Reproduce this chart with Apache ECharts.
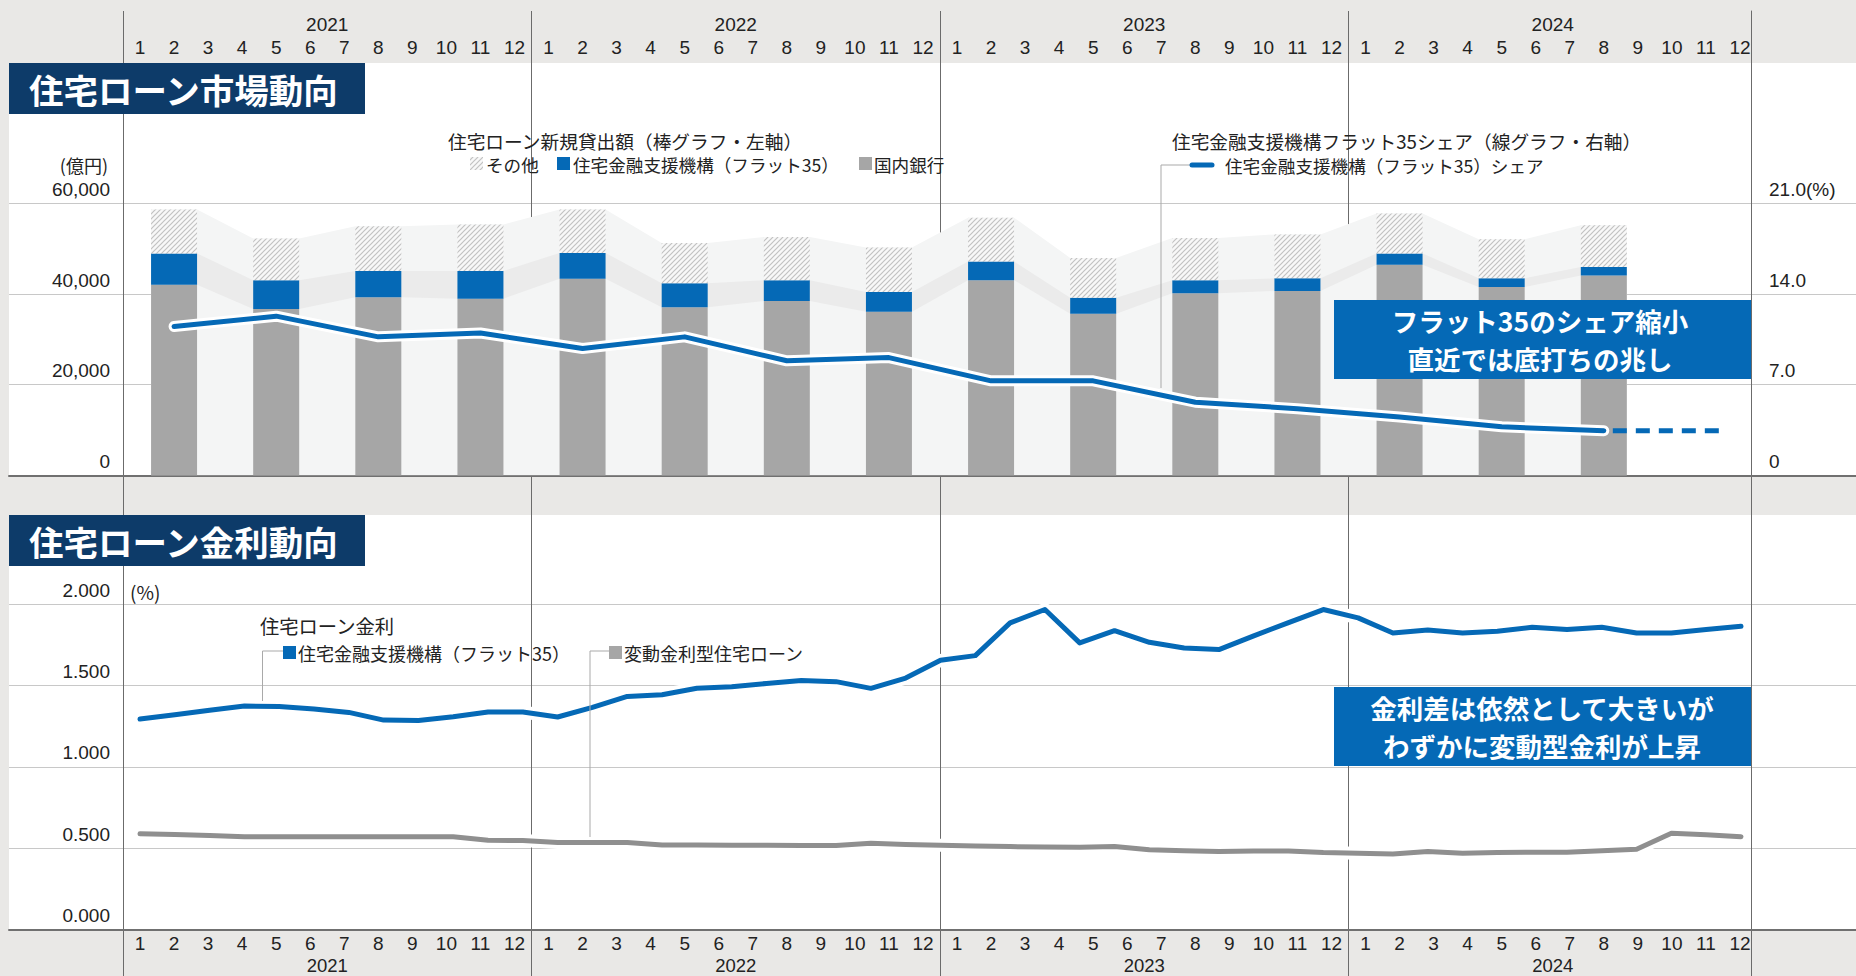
<!DOCTYPE html>
<html><head><meta charset="utf-8">
<script src="https://cdn.jsdelivr.net/npm/echarts@6/dist/echarts.min.js"></script>
<style>html,body{margin:0;padding:0;background:#e9e8e6;}#c{width:1856px;height:976px;}</style>
</head><body><div id="c"></div>
<script>
// ---------------- data ----------------
const YEARS = ['2021', '2022', '2023', '2024'];
const MONTH_NUMS = ['1','2','3','4','5','6','7','8','9','10','11','12'];
const MONTHS = YEARS.flatMap(y => MONTH_NUMS.map(m => y + '-' + m));
// quarterly bars, placed at the middle month of each quarter
const QUARTER_MONTHS = ['2021-2','2021-5','2021-8','2021-11','2022-2','2022-5','2022-8','2022-11',
  '2023-2','2023-5','2023-8','2023-11','2024-2','2024-5','2024-8'];
// 住宅ローン新規貸出額 (億円)
const LOAN_DOMESTIC = [42100, 36700, 39300, 39000, 43400, 37100, 38500, 36100, 43100, 35700, 40200, 40700, 46500, 41600, 44100];
const LOAN_FLAT35   = [6900, 6400, 5800, 6100, 5700, 5300, 4600, 4400, 4100, 3500, 2900, 2800, 2500, 1900, 1900];
const LOAN_OTHER    = [9700, 9200, 9900, 10300, 9600, 8900, 9500, 9800, 9700, 8800, 9300, 9700, 8800, 8600, 9200];
// フラット35シェア (%)
const FLAT35_SHARE = [11.5, 12.3, 10.7, 11.0, 9.8, 10.7, 8.85, 9.1, 7.3, 7.3, 5.65, 5.15, 4.5, 3.75, 3.45];
const SHARE_OUTLOOK_END = 46.5; // month index where the dashed outlook ends
// 住宅ローン金利 (%), 47 monthly points
const RATE_MONTHS = MONTHS.slice(1);
const RATE_FLAT35 = [1.293,1.320,1.347,1.373,1.371,1.355,1.334,1.287,1.285,1.307,1.336,1.336,1.306,1.365,1.432,1.443,
  1.482,1.492,1.512,1.530,1.523,1.482,1.545,1.654,1.683,1.884,1.966,1.761,1.836,1.765,1.730,1.720,1.804,1.886,1.966,
  1.915,1.822,1.840,1.822,1.832,1.857,1.843,1.857,1.822,1.822,1.843,1.863];
const RATE_VARIABLE = [0.588,0.584,0.578,0.570,0.570,0.570,0.570,0.570,0.570,0.570,0.549,0.547,0.535,0.535,0.535,0.520,
  0.520,0.518,0.518,0.516,0.516,0.530,0.522,0.518,0.514,0.510,0.508,0.506,0.510,0.490,0.485,0.479,0.483,0.483,0.473,
  0.469,0.465,0.479,0.469,0.473,0.475,0.475,0.485,0.494,0.592,0.582,0.571];
// axis ticks
const LOAN_TICKS = [0, 20000, 40000, 60000];
const SHARE_TICKS = [0, 7, 14, 21];
const RATE_TICKS = [0, 0.5, 1.0, 1.5, 2.0];

// ---------------- style ----------------
const FONT = "'Noto Sans CJK JP','Noto Sans',sans-serif";
const NUM_FONT = "'Liberation Sans','Roboto',sans-serif";
const BG = '#e9e8e6', NAVY = '#0d3b69', BLUE = '#0569b6', GRAY_BAR = '#a6a6a6', GRAY_LINE = '#8f8f8f';
const TXT = '#222';
const L = 123, R = 99, FRAME_END = 1751, YEAR3_END = 1348.3;
const TOP_Y = 203.6, TOP_H = 271.7, BOT_Y = 604, BOT_H = 325.6;
const BAR_W = 46;
const NUM_SIZE = 19;

function hatchCanvas() {
  const s = 5, c = document.createElement('canvas'); c.width = s; c.height = s;
  const g = c.getContext('2d');
  g.fillStyle = '#f8f8f8'; g.fillRect(0, 0, s, s);
  g.strokeStyle = '#c2c2c2'; g.lineWidth = 1.2; g.beginPath();
  g.moveTo(0, s); g.lineTo(s, 0); g.moveTo(-1, 1); g.lineTo(1, -1); g.moveTo(s - 1, s + 1); g.lineTo(s + 1, s - 1);
  g.stroke();
  return c;
}
const HATCH = { image: hatchCanvas(), repeat: 'repeat' };

const qIdx = QUARTER_MONTHS.map(m => MONTHS.indexOf(m));
const grayTop = LOAN_DOMESTIC.slice();
const blueTop = LOAN_DOMESTIC.map((v, i) => v + LOAN_FLAT35[i]);
const totalTop = blueTop.map((v, i) => v + LOAN_OTHER[i]);
const halfBar = (BAR_W / 2) / ((1856 - L - R) / MONTHS.length);
function bandData(tops) { const d = []; qIdx.forEach((k, i) => { d.push([k - halfBar, tops[i]]); d.push([k + halfBar, tops[i]]); }); return d; }
function toMonthly(vals) { const a = new Array(MONTHS.length).fill('-'); qIdx.forEach((k, i) => { a[k] = vals[i]; }); return a; }

const hidden = { show: false };
function hx(gridIndex) { return { type: 'value', gridIndex, show: false, min: 0, max: 1 }; }
function hy(gridIndex) { return { type: 'value', gridIndex, show: false, min: 0, max: 1 }; }
function labelAxis(gridIndex, data, fmt, size) {
  return { type: 'category', gridIndex, position: 'top', data, axisLine: hidden, axisTick: hidden, splitLine: hidden,
    axisLabel: { interval: 0, margin: 0, verticalAlign: 'middle', lineHeight: size, fontSize: size, fontFamily: NUM_FONT, color: TXT, formatter: fmt } };
}
const monthFmt = v => v.split('-')[1];
const FRAME_LINE = { color: '#6b6b6b', width: 1 };

const grid = [
  { left: L, right: 1856 - YEAR3_END, top: 11, bottom: 0 },                                   // 0 frame (year lines 2021-2023)
  { left: 9, right: 0, top: 63, height: 414, show: true, backgroundColor: '#fff', borderWidth: 0 }, // 1 top panel
  { left: 9, right: 0, top: 515, height: 415, show: true, backgroundColor: '#fff', borderWidth: 0 }, // 2 bottom panel
  { left: 9, right: 0, top: TOP_Y, height: TOP_H },                                             // 3 top gridlines
  { left: L, right: R, top: TOP_Y, height: TOP_H },                                             // 4 top chart
  { left: 9, right: 0, top: BOT_Y, height: BOT_H },                                             // 5 bottom gridlines
  { left: 140, right: 115, top: BOT_Y, height: BOT_H },                                         // 6 rate chart
  { left: L, right: R, top: 24, height: 1 },                                                    // 7 top years
  { left: L, right: R, top: 47, height: 1 },                                                    // 8 top months
  { left: L, right: R, top: 943.5, height: 1 },                                                 // 9 bottom months
  { left: L, right: R, top: 965.5, height: 1 },                                                 // 10 bottom years
  { left: FRAME_END, right: 0, top: 11, bottom: 0 }                                             // 11 frame right edge
];

const xAxis = [
  { type: 'category', gridIndex: 0, position: 'top', data: YEARS.slice(0, 3), axisLine: hidden, axisTick: hidden, axisLabel: hidden,
    splitLine: { show: true, interval: 0, lineStyle: FRAME_LINE } },                              // 0
  hx(1), hx(2),                                                                                  // 1,2
  { type: 'value', gridIndex: 3, min: 0, max: 1, axisLabel: hidden, axisTick: hidden, splitLine: hidden,
    axisLine: { show: true, onZero: false, lineStyle: { color: '#707070', width: 2 } } },          // 3
  { type: 'category', gridIndex: 4, data: MONTHS, show: false },                                 // 4
  { type: 'value', gridIndex: 4, min: -0.5, max: MONTHS.length - 0.5, show: false },             // 5
  { type: 'value', gridIndex: 5, min: 0, max: 1, axisLabel: hidden, axisTick: hidden, splitLine: hidden,
    axisLine: { show: true, onZero: false, lineStyle: { color: '#707070', width: 2 } } },          // 6
  { type: 'category', gridIndex: 6, data: RATE_MONTHS, boundaryGap: false, show: false },        // 7
  labelAxis(7, YEARS, null, NUM_SIZE), labelAxis(8, MONTHS, monthFmt, NUM_SIZE),
  labelAxis(9, MONTHS, monthFmt, NUM_SIZE), labelAxis(10, YEARS, null, 18.5),                    // 8-11
  hx(11)                                                                                         // 12
];

const yLabel = { fontSize: NUM_SIZE, fontFamily: NUM_FONT, color: TXT, verticalAlign: 'bottom', lineHeight: 22, padding: [0, 0, 3, 0] };
const yAxis = [
  hy(0), hy(1), hy(2),
  { type: 'value', gridIndex: 3, min: LOAN_TICKS[0], max: LOAN_TICKS[LOAN_TICKS.length - 1], interval: LOAN_TICKS[1] - LOAN_TICKS[0],
    axisLabel: hidden, axisLine: hidden, axisTick: hidden, splitLine: { show: true, lineStyle: { color: '#c8c8c8', width: 1.2 } } }, // 3
  { type: 'value', gridIndex: 4, position: 'left', min: LOAN_TICKS[0], max: LOAN_TICKS[LOAN_TICKS.length - 1], interval: LOAN_TICKS[1] - LOAN_TICKS[0],
    axisLine: hidden, axisTick: hidden, splitLine: hidden,
    axisLabel: Object.assign({ margin: 13, formatter: v => v.toLocaleString('en-US') }, yLabel) },      // 4
  { type: 'value', gridIndex: 4, position: 'right', min: SHARE_TICKS[0], max: SHARE_TICKS[SHARE_TICKS.length - 1], interval: SHARE_TICKS[1] - SHARE_TICKS[0],
    axisLine: hidden, axisTick: hidden, splitLine: hidden,
    axisLabel: Object.assign({ margin: 12, formatter: v => v === 0 ? '0' : (v === SHARE_TICKS[SHARE_TICKS.length - 1] ? v.toFixed(1) + '(%)' : v.toFixed(1)) }, yLabel) }, // 5
  { type: 'value', gridIndex: 5, min: RATE_TICKS[0], max: RATE_TICKS[RATE_TICKS.length - 1], interval: RATE_TICKS[1] - RATE_TICKS[0],
    axisLabel: hidden, axisLine: hidden, axisTick: hidden, splitLine: { show: true, lineStyle: { color: '#c8c8c8', width: 1.2 } } }, // 6
  { type: 'value', gridIndex: 6, min: RATE_TICKS[0], max: RATE_TICKS[RATE_TICKS.length - 1], interval: RATE_TICKS[1] - RATE_TICKS[0],
    axisLine: hidden, axisTick: hidden, splitLine: hidden,
    axisLabel: Object.assign({ margin: 30, formatter: v => v.toFixed(3) }, yLabel) },                     // 7
  hy(7), hy(8), hy(9), hy(10),
  { type: 'value', gridIndex: 11, position: 'left', min: 0, max: 1, axisLabel: hidden, axisTick: hidden, splitLine: hidden,
    axisLine: { show: true, lineStyle: FRAME_LINE } }                                            // 12
];

function band(name, tops, color) {
  return { name, type: 'line', xAxisIndex: 5, yAxisIndex: 4, data: bandData(tops), symbol: 'none', silent: true, z: 1,
    lineStyle: { width: 0 }, areaStyle: { color, opacity: 1 } };
}
function rateLine(name, data, color, width, z) {
  return { name, type: 'line', xAxisIndex: 7, yAxisIndex: 7, data, symbol: 'none', z, silent: true,
    lineStyle: { color, width, cap: 'round', join: 'round' } };
}
const shareData = qIdx.map((k, i) => [k, FLAT35_SHARE[i]]);
const lastShare = shareData[shareData.length - 1];

const series = [
  band('band-total', totalTop, '#f4f5f5'),
  band('band-flat35', blueTop, '#ebebeb'),
  band('band-domestic', grayTop, '#f4f5f5'),
  { name: '国内銀行', type: 'bar', xAxisIndex: 4, yAxisIndex: 4, stack: 'loan', barWidth: BAR_W, z: 2, data: toMonthly(LOAN_DOMESTIC), itemStyle: { color: GRAY_BAR } },
  { name: '住宅金融支援機構（フラット35）', type: 'bar', xAxisIndex: 4, yAxisIndex: 4, stack: 'loan', barWidth: BAR_W, z: 2, data: toMonthly(LOAN_FLAT35), itemStyle: { color: BLUE } },
  { name: 'その他', type: 'bar', xAxisIndex: 4, yAxisIndex: 4, stack: 'loan', barWidth: BAR_W, z: 2, data: toMonthly(LOAN_OTHER), itemStyle: { color: HATCH } },
  { name: 'share-halo', type: 'line', xAxisIndex: 5, yAxisIndex: 5, data: shareData, symbol: 'none', z: 3, silent: true,
    lineStyle: { color: '#fff', width: 11, cap: 'round', join: 'round' } },
  { name: '住宅金融支援機構（フラット35）シェア', type: 'line', xAxisIndex: 5, yAxisIndex: 5, data: shareData, symbol: 'none', z: 4,
    lineStyle: { color: BLUE, width: 5, cap: 'round', join: 'round' } },
  { name: 'share-outlook', type: 'line', xAxisIndex: 5, yAxisIndex: 5, data: [lastShare, [SHARE_OUTLOOK_END, lastShare[1]]], symbol: 'none', z: 4,
    lineStyle: { color: BLUE, width: 5, type: [14, 9], dashOffset: -9 } },
  rateLine('variable-halo', RATE_VARIABLE, '#fff', 13, 3),
  rateLine('変動金利型住宅ローン', RATE_VARIABLE, GRAY_LINE, 5, 4),
  rateLine('flat35-halo', RATE_FLAT35, '#fff', 13, 3),
  rateLine('住宅金融支援機構（フラット35）金利', RATE_FLAT35, BLUE, 5, 4)
];

function txt(text, x, y, size, opts) {
  return Object.assign({ type: 'text', x, y, z: 100, silent: true,
    style: Object.assign({ text, fill: TXT, fontSize: size, fontFamily: FONT, align: 'left', verticalAlign: 'middle', lineHeight: size }, (opts || {})) });
}
function rect(x, y, w, h, fill) { return { type: 'rect', z: 100, silent: true, shape: { x, y, width: w, height: h }, style: { fill } }; }
function poly(points) { return { type: 'polyline', z: 100, silent: true, shape: { points }, style: { stroke: '#a9a9a9', lineWidth: 1, fill: null } }; }
const CALLOUT = { fill: '#fff', fontWeight: 'bold', align: 'center' };

const graphic = [
  rect(9, 63, 356, 51, NAVY),
  txt('住宅ローン市場動向', 29, 88.5, 34.5, { fill: '#fff', fontWeight: 'bold' }),
  rect(9, 515, 356, 51, NAVY),
  txt('住宅ローン金利動向', 29, 540.5, 34.5, { fill: '#fff', fontWeight: 'bold' }),
  txt('(億円)', 108, 165, 18, { align: 'right' }),
  txt('(%)', 130, 591, 19),
  // top legend
  txt('住宅ローン新規貸出額（棒グラフ・左軸）', 448, 140, 18.7),
  rect(470, 157, 13, 13, HATCH),
  txt('その他', 486, 164, 17.6),
  rect(557, 157, 13, 13, BLUE),
  txt('住宅金融支援機構（フラット35）', 573, 164, 17.6),
  rect(859, 157, 13, 13, GRAY_BAR),
  txt('国内銀行', 874, 164, 17.6),
  txt('住宅金融支援機構フラット35シェア（線グラフ・右軸）', 1172, 140, 18.7),
  poly([[1190, 165], [1161, 165], [1161, 388]]),
  { type: 'line', z: 100, silent: true, shape: { x1: 1192, y1: 165, x2: 1212, y2: 165 }, style: { stroke: BLUE, lineWidth: 5, lineCap: 'round' } },
  txt('住宅金融支援機構（フラット35）シェア', 1225, 165, 17.6),
  // bottom legend
  txt('住宅ローン金利', 260, 626, 19.3),
  poly([[283, 651], [262.5, 651], [262.5, 701]]),
  rect(283, 646, 13, 13, BLUE),
  txt('住宅金融支援機構（フラット35）', 298, 652.5, 18),
  poly([[609, 651], [590, 651], [590, 837]]),
  rect(609, 646, 13, 13, GRAY_BAR),
  txt('変動金利型住宅ローン', 624, 652.5, 18),
  // callouts
  rect(1334, 300, 417, 79, BLUE),
  txt('フラット35のシェア縮小', 1540, 320.3, 26.5, CALLOUT),
  txt('直近では底打ちの兆し', 1540, 358.7, 26.5, CALLOUT),
  rect(1334, 687, 417, 79, BLUE),
  txt('金利差は依然として大きいが', 1542, 707.3, 26.5, CALLOUT),
  txt('わずかに変動型金利が上昇', 1542, 745.7, 26.5, CALLOUT)
];

const chart = echarts.init(document.getElementById('c'), null, { renderer: 'svg', width: 1856, height: 976 });
chart.setOption({
  backgroundColor: BG,
  animation: false,
  textStyle: { fontFamily: FONT },
  grid, xAxis, yAxis, series, graphic
});
</script></body></html>
